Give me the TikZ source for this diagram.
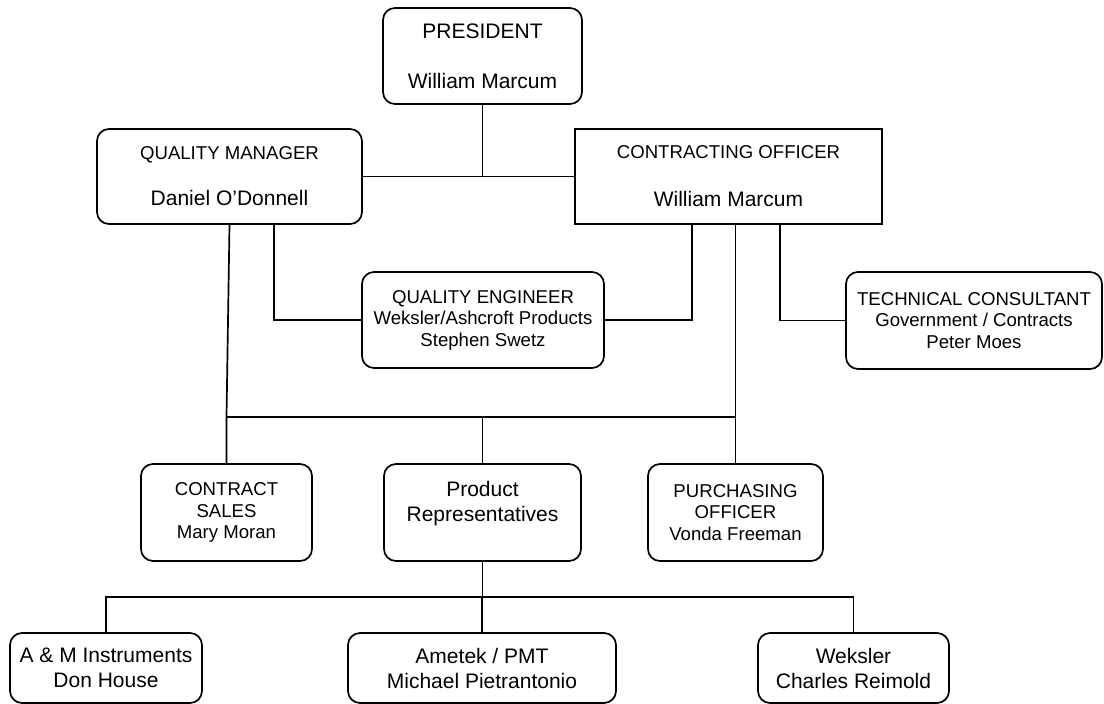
\documentclass[tikz,border=0pt]{standalone}
\usepackage{fontspec}
\setmainfont{Liberation Sans}
\usetikzlibrary{calc}
\newcommand{\ttlfont}{\fontsize{18.6}{21.5}\selectfont}
\newcommand{\nmfont}{\fontsize{21}{25}\selectfont}
\begin{document}
\begin{tikzpicture}[x=1pt,y=-1pt,
  box/.style={draw, rounded corners=12pt, align=center, inner sep=0pt, font=\nmfont, line width=1.7pt},
  sbox/.style={box, sharp corners},
  tbox/.style={box, font=\ttlfont},
  txt/.style={align=center, inner sep=0pt, font=\nmfont},
  link/.style={draw, line width=1.7pt}]
\useasboundingbox (0,0) rectangle (1104,704);

% boxes
\node[box, minimum width=199pt, minimum height=96pt] (pres) at (482.5,56) {PRESIDENT\\[25pt]William Marcum};
\node[box, minimum width=265pt, minimum height=95pt] (qm) at (229.5,176.5) {{\ttlfont QUALITY MANAGER}\\[21pt]Daniel O’Donnell};
\node[sbox, minimum width=307pt, minimum height=95pt] (co) at (728.5,176.5) {{\ttlfont CONTRACTING OFFICER}\\[23pt]William Marcum};
\node[tbox, minimum width=242pt, minimum height=96pt] (qe) at (483,320) {QUALITY ENGINEER\\Weksler/Ashcroft Products\\Stephen Swetz};
\node[tbox, minimum width=256pt, minimum height=97pt] (tc) at (974,320.5) {TECHNICAL CONSULTANT\\Government / Contracts\\Peter Moes};
\node[tbox, minimum width=171pt, minimum height=97pt] (cs) at (226.5,512.5) {CONTRACT\\SALES\\Mary Moran};
\node[box, minimum width=197pt, minimum height=97pt] (pr) at (482.5,512.5) {};
\node[txt] (prt) at (482.5,503.5) {Product\\Representatives};
\node[tbox, minimum width=175pt, minimum height=97pt] (po) at (735.5,512.5) {PURCHASING\\OFFICER\\Vonda Freeman};
\node[box, minimum width=192pt, minimum height=70pt] (am) at (106,668) {A \& M Instruments\\Don House};
\node[box, minimum width=268pt, minimum height=70pt] (amt) at (482,668) {Ametek / PMT\\Michael Pietrantonio};
\node[box, minimum width=191pt, minimum height=70pt] (wk) at (853.5,668) {Weksler\\Charles Reimold};

\coordinate (bus1) at (0,417);
\coordinate (bus2) at (0,597);

% connectors
\draw[link] (pres.south) -- (pres.south |- qm.east);
\draw[link] (qm.east) -- (co.west);
\draw[link] ([xshift=3pt]qm.south -| cs.north) -- (cs.north |- bus1) -- (cs.north);
\draw[link] (cs.north |- bus1) -- (po.north |- bus1);
\draw[link] (po.north |- co.south) -- (po.north);
\draw[link] (pr.north |- bus1) -- (pr.north);
\draw[link] ([xshift=44.5pt]qm.south) |- (qe.west);
\draw[link] ([xshift=-36.5pt]co.south) |- (qe.east);
\draw[link] ([xshift=51.5pt]co.south) |- (tc.west);
\draw[link] (pr.south) -- (pr.south |- bus2);
\draw[link] (am.north) |- (wk.north |- bus2) -- (wk.north);
\draw[link] (amt.north |- bus2) -- (amt.north);
\end{tikzpicture}
\end{document}
